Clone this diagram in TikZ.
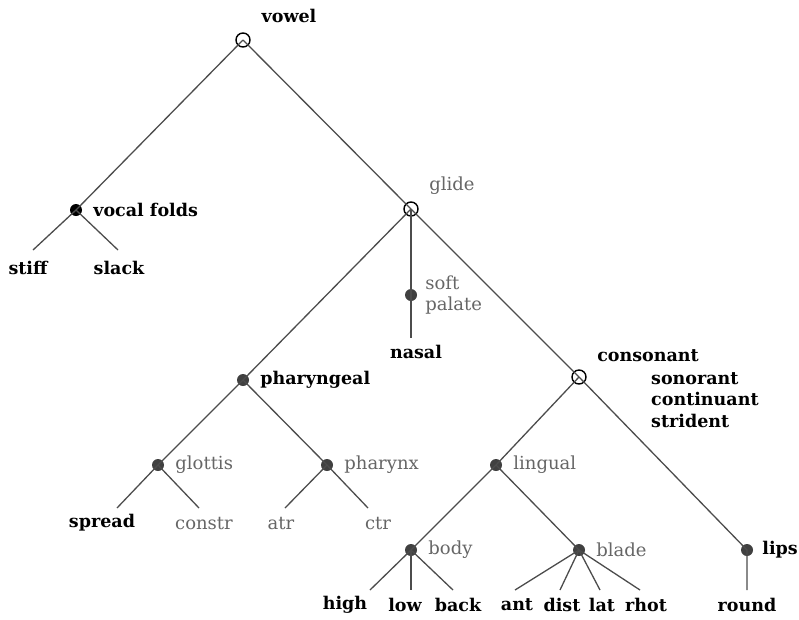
\documentclass[tikz,border=0pt]{standalone}
\usepackage{fontspec}
\setmainfont{DejaVu Serif}
\usetikzlibrary{positioning}
\begin{document}
\begin{tikzpicture}[x=1pt, y=-1pt,
    node distance=8pt,
    opennode/.style={circle, draw=black, line width=1.4pt, inner sep=0pt, minimum size=14pt},
    dotnode/.style={circle, fill=black!75, inner sep=0pt, minimum size=12pt},
    branch/.style={draw=black!70, line width=1.3pt},
    bold/.style={font=\fontsize{17.5}{21.5}\selectfont\bfseries, inner sep=0pt},
    grey/.style={font=\fontsize{18}{21.5}\selectfont, text=black!60, inner sep=0pt}
]
\useasboundingbox (0,0) rectangle (799,619);

% tree points
\node[opennode] (vowel) at (243,40) {};
\node[dotnode, fill=black] (folds) at (76,210) {};
\node[opennode] (glide) at (411,209) {};
\node[dotnode] (soft) at (411,295) {};
\node[opennode] (cons) at (579,377) {};
\node[dotnode] (phar) at (243,380) {};
\node[dotnode] (glot) at (158,465) {};
\node[dotnode] (pharx) at (327,465) {};
\node[dotnode] (ling) at (496,465) {};
\node[dotnode] (body) at (411,550) {};
\node[dotnode] (blade) at (579,550) {};
\node[dotnode] (lips) at (747,550) {};

% leaf ends
\coordinate (e_stiff) at (33,250);
\coordinate (e_slack) at (118,250);
\coordinate (e_nasal) at (411,338);
\coordinate (e_spread) at (117,508);
\coordinate (e_constr) at (199,508);
\coordinate (e_atr) at (285,508);
\coordinate (e_ctr) at (368,508);
\coordinate (e_high) at (370,590);
\coordinate (e_low) at (411,590);
\coordinate (e_back) at (453,590);
\coordinate (e_ant) at (515,590);
\coordinate (e_dist) at (560,590);
\coordinate (e_lat) at (600,590);
\coordinate (e_rhot) at (640,590);
\coordinate (e_round) at (747,590);

% branches
\draw[branch] (vowel.center) -- (folds.center);
\draw[branch] (vowel.center) -- (glide.center);
\draw[branch] (folds.center) -- (e_stiff);
\draw[branch] (folds.center) -- (e_slack);
\draw[branch] (glide.center) -- (phar.center);
\draw[branch] (glide.center) -- (soft.center) -- (e_nasal);
\draw[branch] (glide.center) -- (cons.center);
\draw[branch] (phar.center) -- (glot.center);
\draw[branch] (phar.center) -- (pharx.center);
\draw[branch] (glot.center) -- (e_spread);
\draw[branch] (glot.center) -- (e_constr);
\draw[branch] (pharx.center) -- (e_atr);
\draw[branch] (pharx.center) -- (e_ctr);
\draw[branch] (cons.center) -- (ling.center);
\draw[branch] (cons.center) -- (lips.center) -- (e_round);
\draw[branch] (ling.center) -- (body.center);
\draw[branch] (ling.center) -- (blade.center);
\draw[branch] (body.center) -- (e_high);
\draw[branch] (body.center) -- (e_low);
\draw[branch] (body.center) -- (e_back);
\draw[branch] (blade.center) -- (e_ant);
\draw[branch] (blade.center) -- (e_dist);
\draw[branch] (blade.center) -- (e_lat);
\draw[branch] (blade.center) -- (e_rhot);

% node labels
\node[bold] (l_vowel) at (289,16) {vowel};
\node[bold, right=11pt of folds] (l_folds) {vocal folds};
\node[grey] (l_glide) at (452,186) {glide};
\node[grey, right=8pt of soft, align=left] (l_soft) {soft\\palate};
\node[bold] (l_cons) at (648,356) {consonant};
\node[bold, align=left, anchor=north west] (l_feat) at (651,372) {sonorant\\continuant\\strident};
\node[bold, right=11pt of phar] (l_phar) {pharyngeal};
\node[grey, right=11pt of glot] (l_glot) {glottis};
\node[grey, right=11pt of pharx] (l_pharx) {pharynx};
\node[grey, right=11pt of ling] (l_ling) {lingual};
\node[grey, right=11pt of body] (l_body) {body};
\node[grey, right=11pt of blade] (l_blade) {blade};
\node[bold, right=9pt of lips] (l_lips) {lips};

% leaf labels
\node[bold] (l_stiff) at (28,268) {stiff};
\node[bold] (l_slack) at (119,268) {slack};
\node[bold] (l_nasal) at (416,352) {nasal};
\node[bold] (l_spread) at (102,523) {spread};
\node[grey] (l_constr) at (204,523) {constr};
\node[grey] (l_atr) at (281,523) {atr};
\node[grey] (l_ctr) at (378,523) {ctr};
\node[bold] (l_high) at (345,605) {high};
\node[bold] (l_low) at (405,605) {low};
\node[bold] (l_back) at (458,605) {back};
\node[bold] (l_ant) at (517,605) {ant};
\node[bold] (l_dist) at (562,605) {dist};
\node[bold] (l_lat) at (602,605) {lat};
\node[bold] (l_rhot) at (646,605) {rhot};
\node[bold] (l_round) at (747,605) {round};
\end{tikzpicture}
\end{document}
